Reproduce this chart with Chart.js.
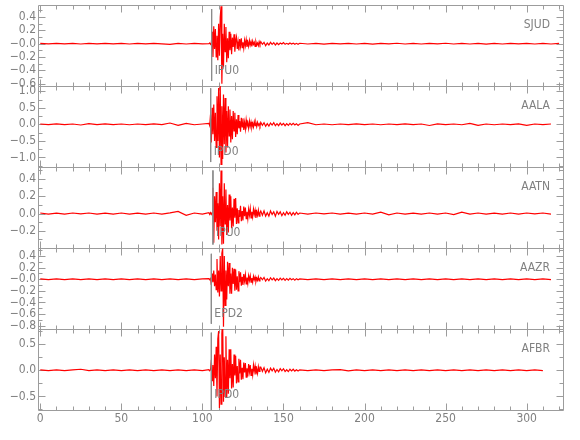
<!DOCTYPE html>
<html>
<head>
<meta charset="utf-8">
<script src="https://cdn.jsdelivr.net/npm/chart.js@4.4.1/dist/chart.umd.min.js"></script>
<style>
  html, body { margin: 0; padding: 0; background: #fff; }
</style>
</head>
<body>
<canvas id="chart" width="580" height="440"></canvas>
<script>
// stations, top to bottom
var stations = ['SJUD', 'AALA', 'AATN', 'AAZR', 'AFBR'];
var axisIds = ['ySJUD', 'yAALA', 'yAATN', 'yAAZR', 'yAFBR'];

// phase picks
var pickNames = ['IPU0', 'IPD0', 'IPU0', 'EPD2', 'IPD0'];
var pickTimes = [105.7, 105.1, 106.5, 105.5, 105.5];
var pickTop = [0.52, 1.09, 0.50, 0.44, 0.72];
var pickBottom = [-0.56, -1.14, -0.36, -0.77, -0.76];
var pickLabelY = [-0.41, -0.83, -0.22, -0.60, -0.47];

// axes
var xMin = -1.4, xMax = 322.4;
var xTicks = [0, 50, 100, 150, 200, 250, 300];
var xMinorStep = 10;
var yMin = [-0.635, -1.29, -0.40, -0.86, -0.76];
var yMax = [0.58, 1.16, 0.54, 0.54, 0.79];
var yTicks = [
  [-0.6, -0.4, -0.2, 0, 0.2, 0.4],
  [-1.0, -0.5, 0, 0.5, 1.0],
  [-0.2, 0, 0.2, 0.4],
  [-0.8, -0.6, -0.4, -0.2, 0, 0.2, 0.4],
  [-0.5, 0, 0.5]
];
var yTickLabels = [
  ['\u22120.6', '\u22120.4', '\u22120.2', '\u22120.0', '0.2', '0.4'],
  ['\u22121.0', '\u22120.5', '0.0', '0.5', '1.0'],
  ['\u22120.2', '0.0', '0.2', '0.4'],
  ['\u22120.8', '\u22120.6', '\u22120.4', '\u22120.2', '\u22120.0', '0.2', '0.4'],
  ['\u22120.5', '0.0', '0.5']
];
var yMinorStep = [0.1, 0.25, 0.1, 0.1, 0.25];

// sampling of the traces (seconds)
var preStart = 0, preStep = 5;
var eventStart = 104, eventStep = 0.5;
var codaStart = 136, codaStep = 1;
var postStart = 160, postStep = 5;

// SJUD
var sjudPre = [0.004, -0.004, 0.005, -0.003, 0.004, -0.005, 0.003, -0.004, 0.005, -0.004, 0.003,
  -0.005, 0.004, -0.003, 0.005, -0.004, -0.012, 0.004, -0.005, 0.003, -0.004];
var sjudEvent = [0.00, 0.01, -0.01, 0.01, 0.18, -0.20, 0.26, -0.08, 0.22, -0.20, 0.12, -0.25,
  0.30, -0.18, 0.40, 0.56, -0.60, 0.15, -0.35, 0.30, -0.12, 0.25, -0.28, 0.08, -0.22, 0.18,
  -0.10, 0.15, -0.16, 0.09, -0.05, 0.14, -0.12, 0.04, 0.10, -0.08, 0.03, -0.10, 0.07, -0.04,
  0.08, -0.06, 0.02, -0.07, 0.05, -0.03, 0.06, -0.05, 0.02, -0.04, 0.05, -0.02, 0.03, -0.04,
  0.04, -0.01, 0.02, -0.04, 0.03, -0.02, 0.01, -0.03, 0.03, -0.01];
var sjudCoda = [0.03, -0.01, 0.02, -0.03, 0.01, -0.02, 0.02, -0.01, 0.015, -0.02, 0.01, -0.015,
  0.01, -0.005, 0.015, -0.01, 0.005, -0.01, 0.01, -0.005, 0.008, -0.01, 0.005, -0.008];
var sjudPost = [0.006, -0.005, 0.004, -0.006, 0.005, -0.004, 0.005, -0.005, 0.004, -0.006, 0.005,
  -0.004, 0.006, -0.005, 0.004, -0.005, 0.005, -0.004, 0.006, -0.005, 0.004, -0.005, 0.005,
  -0.006, 0.004, -0.005, 0.005, -0.004, 0.005, -0.005, 0.004, -0.005, 0.004];

// AALA
var aalaPre = [0.01, -0.01, 0.012, -0.01, 0.01, -0.02, 0.02, -0.01, 0.012, -0.01, 0.01, -0.012,
  0.01, -0.01, 0.012, -0.01, 0.04, -0.03, 0.03, -0.012, 0.01];
var aalaEvent = [0.03, -0.04, 0.30, -0.55, 0.50, -0.30, 0.60, -0.50, 0.35, -0.70, 0.85, -0.50,
  1.10, -1.00, 1.20, -1.21, 0.55, -1.05, 0.90, -0.60, 0.80, -0.85, 0.40, -0.70, 0.55, -0.35,
  0.45, -0.55, 0.25, -0.45, 0.40, -0.20, 0.35, -0.38, 0.15, -0.30, 0.28, -0.12, 0.10, -0.22,
  0.20, -0.08, 0.18, -0.17, 0.06, -0.14, 0.14, -0.05, 0.04, -0.12, 0.10, -0.06, 0.07, -0.09,
  0.03, -0.08, 0.08, -0.04, 0.05, -0.07, 0.06, -0.03, 0.02, -0.05];
var aalaCoda = [0.06, -0.03, 0.05, -0.06, 0.02, -0.05, 0.04, -0.02, 0.05, -0.04, 0.02, -0.04,
  0.04, -0.02, 0.03, -0.04, 0.02, -0.03, 0.03, -0.02, 0.03, -0.02, 0.02, -0.03];
var aalaPost = [0.01, 0.05, -0.012, 0.01, -0.012, 0.01, -0.01, 0.012, -0.01, 0.01, -0.012, 0.01,
  -0.01, 0.012, -0.01, 0.01, -0.035, 0.012, -0.01, 0.01, -0.012, 0.03, -0.03, 0.01, -0.012, 0.01,
  -0.01, 0.012, -0.03, 0.01, -0.01, 0.01];

// AATN
var aatnPre = [0.006, -0.006, 0.005, -0.006, 0.006, -0.005, 0.006, -0.006, 0.005, -0.006, 0.006,
  -0.006, 0.005, -0.006, 0.006, -0.006, 0.008, 0.025, -0.02, 0.006, -0.006];
var aatnEvent = [0.01, -0.01, 0.01, -0.01, 0.01, 0.30, -0.34, 0.20, -0.10, 0.25, -0.20, 0.12,
  -0.30, 0.35, -0.15, 0.50, -0.36, 0.20, -0.35, 0.35, -0.12, 0.28, -0.25, 0.10, -0.22, 0.22,
  -0.08, 0.20, -0.17, 0.07, -0.15, 0.17, -0.05, 0.18, -0.12, 0.06, -0.11, 0.04, -0.04, 0.09,
  -0.09, 0.03, -0.08, 0.08, -0.03, 0.07, -0.06, 0.02, -0.06, 0.05, -0.02, 0.06, -0.05, 0.02,
  -0.04, 0.05, -0.01, 0.04, -0.05, 0.02, -0.02, 0.04, -0.03, 0.01];
var aatnCoda = [0.03, -0.02, 0.03, -0.03, 0.01, -0.03, 0.03, -0.01, 0.02, -0.03, 0.025, -0.01,
  0.02, -0.025, 0.01, -0.02, 0.02, -0.01, 0.015, -0.02, 0.01, -0.015, 0.015, -0.01];
var aatnPost = [0.006, -0.006, 0.006, -0.005, 0.006, -0.006, 0.005, -0.006, 0.006, -0.006, 0.015,
  -0.015, 0.006, -0.006, 0.005, -0.006, 0.006, -0.006, 0.006, -0.012, 0.015, -0.006, 0.006,
  -0.006, 0.005, -0.006, 0.006, -0.006, 0.006, -0.005, 0.006, -0.006];

// AAZR
var aazrPre = [0.006, -0.006, 0.005, -0.006, 0.006, -0.005, 0.006, -0.006, 0.005, -0.006, 0.006,
  -0.005, 0.008, -0.008, 0.006, -0.006, 0.005, -0.006, 0.006, -0.005, 0.006];
var aazrEvent = [0.01, -0.01, 0.01, -0.10, 0.10, -0.05, 0.15, -0.12, 0.08, -0.18, 0.35, -0.23,
  0.15, -0.30, 0.40, -0.20, 0.45, 0.53, -0.82, 0.40, -0.45, 0.15, -0.35, 0.30, -0.12, 0.28,
  -0.25, 0.10, -0.25, 0.20, -0.08, 0.18, -0.20, 0.17, -0.18, 0.05, -0.20, 0.14, -0.05, 0.12,
  -0.11, 0.04, -0.10, 0.09, -0.03, 0.08, -0.08, 0.03, -0.07, 0.06, -0.02, 0.06, -0.05, 0.02,
  -0.05, 0.05, -0.01, 0.04, -0.04, 0.02, -0.02, 0.04, -0.03, 0.01];
var aazrCoda = [0.03, -0.01, 0.03, -0.03, 0.01, -0.025, 0.025, -0.01, 0.02, -0.025, 0.01, -0.02,
  0.02, -0.01, 0.015, -0.02, 0.01, -0.015, 0.015, -0.01, 0.01, -0.015, 0.01, -0.01];
var aazrPost = [0.006, -0.006, 0.005, -0.006, 0.006, -0.005, 0.006, -0.006, 0.005, -0.006, 0.006,
  -0.005, 0.006, -0.006, 0.005, -0.006, 0.006, -0.005, 0.006, -0.006, 0.005, -0.006, 0.006,
  -0.005, 0.006, -0.006, 0.005, -0.006, 0.006, -0.005, 0.006, -0.006];

// AFBR
var afbrPre = [0.008, -0.008, 0.006, -0.008, 0.008, 0.02, -0.008, 0.008, -0.006, 0.008, -0.008,
  0.006, -0.008, 0.008, -0.006, 0.008, -0.008, 0.006, -0.008, 0.008, -0.008];
var afbrEvent = [0.01, -0.01, 0.01, 0.20, -0.20, 0.10, -0.30, 0.30, -0.15, 0.45, -0.50, 0.60,
  0.75, -0.72, 0.30, -0.65, 0.70, 0.97, -0.60, 0.25, -0.50, 0.65, -0.52, 0.20, -0.45, 0.40,
  -0.15, 0.40, -0.35, 0.12, -0.33, 0.30, -0.10, 0.28, -0.25, 0.08, -0.22, 0.22, -0.06, 0.20,
  -0.18, 0.05, -0.17, 0.15, -0.04, 0.14, -0.13, 0.04, -0.12, 0.12, -0.03, 0.10, -0.10, 0.03,
  -0.09, 0.10, -0.02, 0.08, -0.08, 0.02, -0.06, 0.07, -0.02, 0.06];
var afbrCoda = [0.06, -0.02, 0.05, -0.05, 0.02, -0.04, 0.04, -0.01, 0.04, -0.035, 0.015, -0.03,
  0.03, -0.01, 0.03, -0.025, 0.01, -0.025, 0.02, -0.01, 0.02, -0.015, 0.01, -0.015];
var afbrPost = [0.008, -0.008, 0.006, -0.008, 0.008, 0.012, -0.012, 0.008, -0.008, 0.006, -0.008,
  0.008, -0.006, 0.008, -0.008, 0.006, -0.008, 0.008, -0.006, 0.008, -0.008, 0.006, -0.008,
  0.008, -0.006, 0.008, -0.008, 0.006, -0.008, 0.008, -0.006];

var traces = [
  [sjudPre, sjudEvent, sjudCoda, sjudPost],
  [aalaPre, aalaEvent, aalaCoda, aalaPost],
  [aatnPre, aatnEvent, aatnCoda, aatnPost],
  [aazrPre, aazrEvent, aazrCoda, aazrPost],
  [afbrPre, afbrEvent, afbrCoda, afbrPost]
];

var fontFamily = '"Liberation Sans Narrow", "DejaVu Sans Condensed", sans-serif';
var textColor = '#808080';
var frameColor = '#9c9c9c';
var traceColor = '#ff0000';

function toPoints(parts) {
  var starts = [preStart, eventStart, codaStart, postStart];
  var steps = [preStep, eventStep, codaStep, postStep];
  var pts = [];
  for (var p = 0; p < parts.length; p++) {
    for (var j = 0; j < parts[p].length; j++) {
      pts.push({ x: starts[p] + j * steps[p], y: parts[p][j] });
    }
  }
  return pts;
}

var datasets = [];
// picks first so they are drawn on top
for (var i = 0; i < stations.length; i++) {
  datasets.push({
    label: pickNames[i],
    data: [{ x: pickTimes[i], y: pickTop[i] }, { x: pickTimes[i], y: pickBottom[i] }],
    yAxisID: axisIds[i],
    borderColor: '#8c8c8c',
    borderWidth: 1,
    pointRadius: 0
  });
}
for (var i = 0; i < stations.length; i++) {
  datasets.push({
    label: stations[i],
    data: toPoints(traces[i]),
    yAxisID: axisIds[i],
    borderColor: traceColor,
    borderWidth: 1.2,
    pointRadius: 0,
    tension: 0
  });
}

function makeYAxis(i) {
  return {
    type: 'linear',
    position: 'left',
    stack: 'panels',
    stackWeight: 1,
    min: yMin[i],
    max: yMax[i],
    grid: { display: false, drawTicks: false },
    border: { display: false },
    ticks: {
      autoSkip: false,
      color: textColor,
      padding: 2,
      font: { family: fontFamily, size: 12, lineHeight: 1 },
      callback: function(value, index) { return yTickLabels[i][index]; }
    },
    afterBuildTicks: function(scale) {
      scale.ticks = yTicks[i].map(function(v) { return { value: v }; });
    },
    afterFit: function(scale) {
      scale.width = 38;
      scale.paddingTop = 0;
      scale.paddingBottom = 0;
    }
  };
}

var scales = {
  x: {
    type: 'linear',
    min: xMin,
    max: xMax,
    grid: { display: false, drawTicks: false },
    border: { display: false },
    ticks: {
      autoSkip: false,
      maxRotation: 0,
      color: textColor,
      padding: 3,
      font: { family: fontFamily, size: 12, lineHeight: 1 },
      callback: function(value) { return String(value); }
    },
    afterBuildTicks: function(scale) {
      scale.ticks = xTicks.map(function(v) { return { value: v }; });
    },
    afterFit: function(scale) {
      scale.height = 30;
      scale.paddingLeft = 0;
      scale.paddingRight = 0;
    }
  }
};
// stacked axes: the last one added ends up on top
for (var i = stations.length - 1; i >= 0; i--) {
  scales[axisIds[i]] = makeYAxis(i);
}

function isMajor(list, v) {
  for (var k = 0; k < list.length; k++) {
    if (Math.abs(list[k] - v) < 1e-6) return true;
  }
  return false;
}

// frame with inward ticks around each panel
var panelFrames = {
  id: 'panelFrames',
  beforeDatasetsDraw: function(chart) {
    var ctx = chart.ctx;
    var area = chart.chartArea;
    var xs = chart.scales.x;
    var left = Math.round(area.left) + 0.5;
    var right = Math.round(area.right) + 0.5;
    ctx.save();
    ctx.strokeStyle = frameColor;
    ctx.lineWidth = 1;
    for (var i = 0; i < stations.length; i++) {
      var ys = chart.scales[axisIds[i]];
      var top = Math.round(ys.top) + 0.5;
      var bottom = Math.round(ys.bottom) + 0.5;
      ctx.beginPath();
      ctx.rect(left, top, right - left, bottom - top);
      for (var v = 0; v <= xs.max; v += xMinorStep) {
        var len = isMajor(xTicks, v) ? 7 : 4;
        var px = Math.round(xs.getPixelForValue(v)) + 0.5;
        ctx.moveTo(px, top); ctx.lineTo(px, top + len);
        ctx.moveTo(px, bottom); ctx.lineTo(px, bottom - len);
      }
      var step = yMinorStep[i];
      for (var k = Math.ceil(ys.min / step - 1e-6); k * step <= ys.max + 1e-6; k++) {
        var val = k * step;
        var ylen = isMajor(yTicks[i], val) ? 7 : 4;
        var py = Math.round(ys.getPixelForValue(val)) + 0.5;
        ctx.moveTo(left, py); ctx.lineTo(left + ylen, py);
        ctx.moveTo(right, py); ctx.lineTo(right - ylen, py);
      }
      ctx.stroke();
    }
    ctx.restore();
  }
};

// station names and pick labels
var panelText = {
  id: 'panelText',
  afterDatasetsDraw: function(chart) {
    var ctx = chart.ctx;
    var area = chart.chartArea;
    var xs = chart.scales.x;
    ctx.save();
    ctx.fillStyle = textColor;
    ctx.font = '12px ' + fontFamily;
    ctx.textBaseline = 'middle';
    for (var i = 0; i < stations.length; i++) {
      var ys = chart.scales[axisIds[i]];
      ctx.textAlign = 'right';
      ctx.fillText(stations[i], area.right - 13, ys.top + 20);
      ctx.textAlign = 'left';
      ctx.fillText(pickNames[i], xs.getPixelForValue(pickTimes[i]) + 3, ys.getPixelForValue(pickLabelY[i]));
    }
    ctx.restore();
  }
};

new Chart(document.getElementById('chart'), {
  type: 'line',
  data: { datasets: datasets },
  options: {
    responsive: false,
    animation: false,
    layout: { padding: { left: 0, right: 17, top: 5, bottom: 0 } },
    plugins: { legend: { display: false }, tooltip: { enabled: false } },
    scales: scales
  },
  plugins: [panelFrames, panelText]
});
</script>
</body>
</html>
